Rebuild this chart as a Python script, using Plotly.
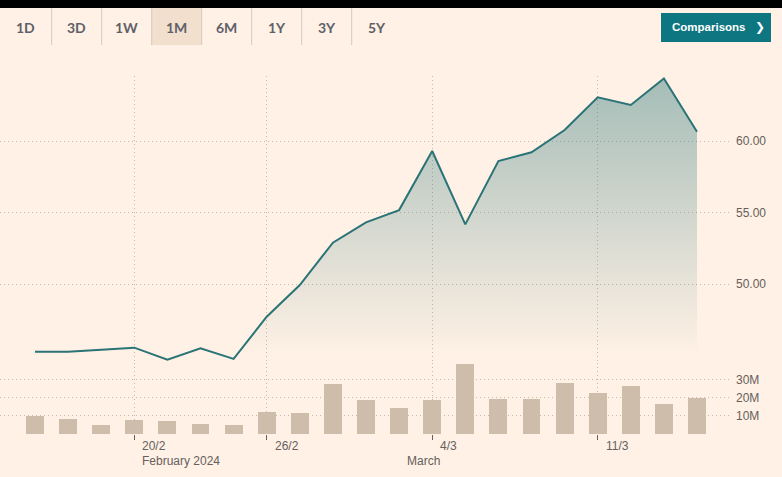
import plotly.graph_objects as go

# ---------------- data ----------------
DATES = ["15/2", "16/2", "19/2", "20/2", "21/2", "22/2", "23/2", "26/2", "27/2", "28/2",
         "29/2", "1/3", "4/3", "5/3", "6/3", "7/3", "8/3", "11/3", "12/3", "13/3", "14/3"]
PRICE = [45.27, 45.27, 45.40, 45.55, 44.70, 45.50, 44.76, 47.71, 49.93, 52.89,
         54.31, 55.17, 59.30, 54.17, 58.60, 59.21, 60.77, 63.06, 62.52, 64.38, 60.65]
VOLUME_M = [10.0, 8.4, 5.1, 7.8, 7.3, 5.6, 5.1, 12.2, 11.6, 27.5,
            18.7, 14.4, 18.7, 38.4, 19.3, 19.3, 28.0, 22.6, 26.4, 16.6, 19.9]
TICK_LABELS = ["20/2", "26/2", "4/3", "11/3"]
MONTH_LABELS = ["February 2024", "March"]
MONTH_AT = ["20/2", "1/3"]
PRICE_TICKS = [50, 55, 60]
VOLUME_TICKS_M = [10, 20, 30]
BUTTONS = ["1D", "3D", "1W", "1M", "6M", "1Y", "3Y", "5Y"]
SELECTED = "1M"

# ---------------- layout geometry ----------------
W, H = 782, 477
ML, MR, MT, MB = 0, 52, 76, 43
PW, PH = W - ML - MR, H - MT - MB


def px_x(p):
    return (p - ML) / PW


def px_y(p):
    return (H - MB - p) / PH


BG = "#fff1e5"
TEAL = "#0d7680"
LINE = "#2a7376"
GRID = "#c4b9af"
TXT = "#66605c"
BTN_TXT = "#5f6068"
BAR = "#cdbdaa"
DOT = "1px,3px"

x_idx = list(range(len(DATES)))
tickvals = [DATES.index(t) for t in TICK_LABELS]
split = px_y(363)

fig = go.Figure()

fig.add_trace(go.Bar(
    x=x_idx, y=[v * 1e6 for v in VOLUME_M], yaxis="y2",
    marker=dict(color=BAR, line=dict(width=0)), width=0.54,
    hoverinfo="skip", showlegend=False,
))

fig.add_trace(go.Scatter(
    x=x_idx, y=PRICE, mode="lines", yaxis="y",
    line=dict(color=LINE, width=2),
    fill="tozeroy",
    fillgradient=dict(type="vertical", start=45.0, stop=max(PRICE),
                      colorscale=[[0, "rgba(30,110,115,0)"], [1, "rgba(30,110,115,0.40)"]]),
    hoverinfo="skip", showlegend=False,
))

fig.update_layout(
    width=W, height=H,
    margin=dict(l=ML, r=MR, t=MT, b=MB, pad=0),
    paper_bgcolor=BG, plot_bgcolor=BG,
    showlegend=False,
    bargap=0,
    font=dict(family="Liberation Sans, Arial, sans-serif", size=12, color=TXT),
    xaxis=dict(
        range=[-35 / 33.1, 20 + 33 / 33.1],
        tickvals=tickvals, showticklabels=False,
        ticks="outside", ticklen=5, tickcolor=TXT, tickwidth=1,
        showgrid=True, gridcolor=GRID, griddash=DOT, gridwidth=1,
        zeroline=False, showline=False, anchor="y2", fixedrange=True,
    ),
    yaxis=dict(
        domain=[split, 1], range=[60 - (363 - 141) / 14.3, 60 + (141 - 76) / 14.3],
        side="right", tickvals=PRICE_TICKS, ticktext=[f"{v:.2f}" for v in PRICE_TICKS],
        showgrid=True, gridcolor=GRID, griddash=DOT, gridwidth=1,
        zeroline=False, ticks="", ticklabelstandoff=5, fixedrange=True,
        tickfont=dict(size=12, color=TXT),
    ),
    yaxis2=dict(
        domain=[0, split], range=[0, 71 / 1.823 * 1e6],
        side="right", tickvals=[v * 1e6 for v in VOLUME_TICKS_M],
        ticktext=[f"{v}M" for v in VOLUME_TICKS_M],
        showgrid=True, gridcolor=GRID, griddash=DOT, gridwidth=1,
        zeroline=False, ticks="", ticklabelstandoff=5, fixedrange=True,
        tickfont=dict(size=12, color=TXT),
    ),
)

shapes = []
annotations = []

# top black band
shapes.append(dict(type="rect", xref="paper", yref="paper",
                   x0=px_x(0), x1=px_x(W), y0=px_y(8), y1=px_y(0),
                   fillcolor="#000000", line=dict(width=0), layer="above"))

# period buttons
for i, b in enumerate(BUTTONS):
    x0 = 1.7 + 50 * i
    x1 = x0 + 50
    if b == SELECTED:
        shapes.append(dict(type="rect", xref="paper", yref="paper",
                           x0=px_x(x0), x1=px_x(x1), y0=px_y(45), y1=px_y(8),
                           fillcolor="#f2dfce", line=dict(width=0), layer="above"))
    if i > 0:
        shapes.append(dict(type="line", xref="paper", yref="paper",
                           x0=px_x(x0), x1=px_x(x0), y0=px_y(45), y1=px_y(8),
                           line=dict(color="#d7c9bc", width=1), layer="above"))
    annotations.append(dict(text=b, xref="paper", yref="paper",
                            x=px_x(x0 + 25 - (1.7 if i == 0 else 0)), y=px_y(27.5),
                            xanchor="center", yanchor="middle", showarrow=False,
                            font=dict(family="Lato, sans-serif", size=14, color=BTN_TXT,
                                      weight=700)))

# Comparisons button
shapes.append(dict(type="rect", xref="paper", yref="paper",
                   x0=px_x(661), x1=px_x(771), y0=px_y(42), y1=px_y(13),
                   fillcolor=TEAL, line=dict(width=0), layer="above"))
annotations.append(dict(text="<b>Comparisons</b>", xref="paper", yref="paper",
                        x=px_x(670), y=px_y(27.5), xanchor="left", yanchor="middle",
                        showarrow=False,
                        font=dict(family="Liberation Sans, Arial, sans-serif", size=11.5,
                                  color="white")))
annotations.append(dict(text="<b>❯</b>", xref="paper", yref="paper",
                        x=px_x(760), y=px_y(27.5), xanchor="center", yanchor="middle",
                        showarrow=False,
                        font=dict(family="DejaVu Sans, sans-serif", size=12, color="white")))

# x tick labels (left-aligned right of the tick)
for t in TICK_LABELS:
    annotations.append(dict(text=t, xref="x", yref="paper", x=DATES.index(t), xshift=6,
                            y=px_y(446), xanchor="left", yanchor="middle", showarrow=False,
                            font=dict(size=12, color=TXT)))
for m, at in zip(MONTH_LABELS, MONTH_AT):
    annotations.append(dict(text=m, xref="x", yref="paper", x=DATES.index(at), xshift=6,
                            y=px_y(461), xanchor="left", yanchor="middle", showarrow=False,
                            font=dict(size=12, color=TXT)))

fig.update_layout(shapes=shapes, annotations=annotations)

fig.write_html("out.html", config={"displayModeBar": False})
